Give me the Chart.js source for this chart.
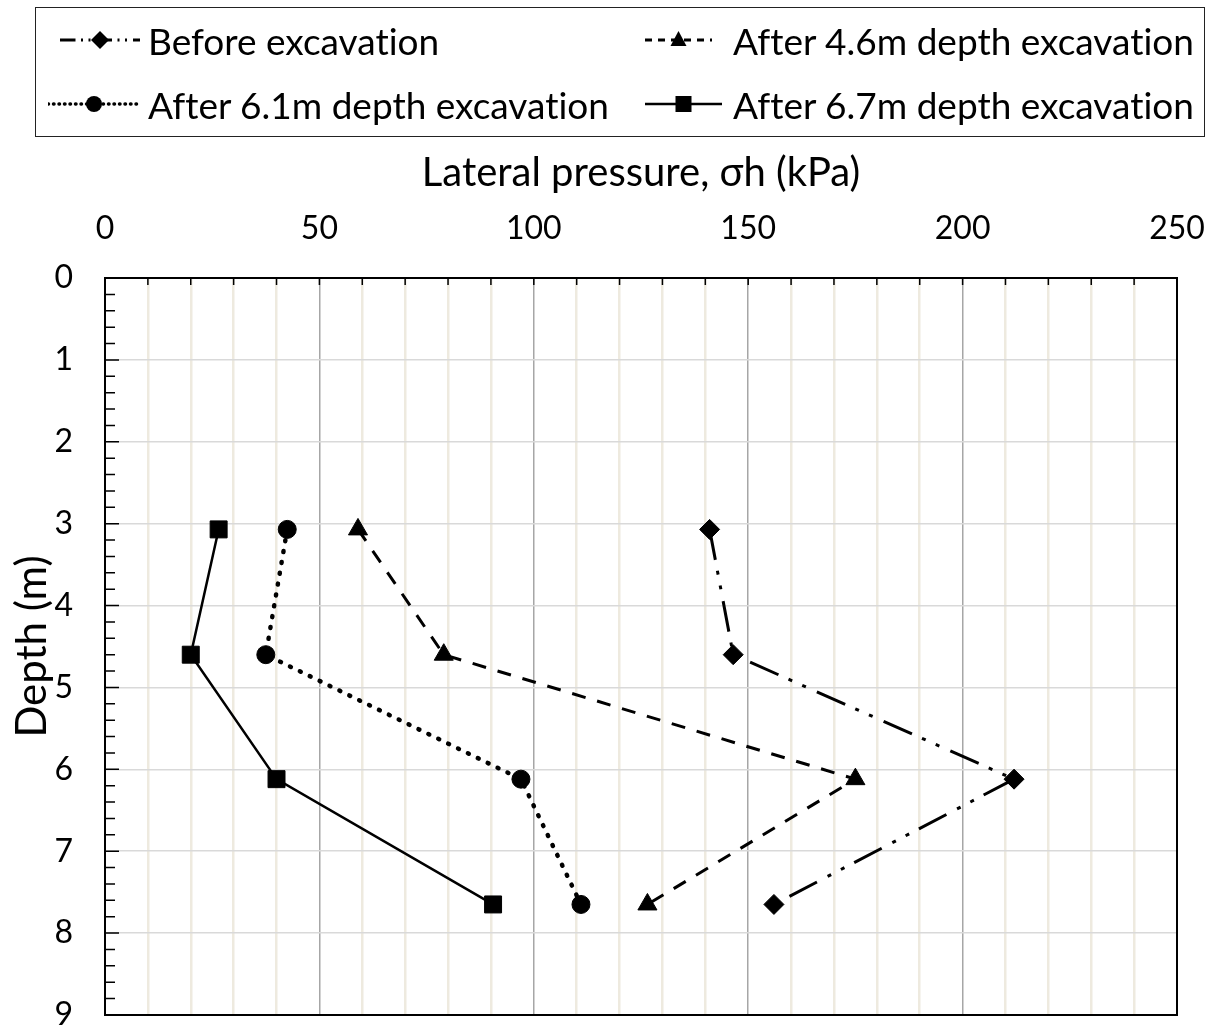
<!DOCTYPE html>
<html>
<head>
<meta charset="utf-8">
<script src="https://cdn.jsdelivr.net/npm/chart.js@4.4.1/dist/chart.umd.min.js"></script>
<style>
  body { margin: 0; background: #fff; }
  #wrap { position: relative; width: 1211px; height: 1028px; font-family: Lato, "Open Sans", sans-serif; color: #000; }
  #chart { position: absolute; left: 0; top: 0; }
  #legendBox { position: absolute; left: 35px; top: 7px; width: 1170px; height: 130px; border: 1.5px solid #222; box-sizing: border-box; }
  .sym, .txt { position: absolute; height: 44px; display: flex; align-items: center; }
  .txt { font-size: 37px; white-space: nowrap; font-variant-ligatures: none; font-feature-settings: "liga" 0; }
</style>
</head>
<body>
<div id="wrap">
  <canvas id="chart" width="1211" height="1028"></canvas>
  <div id="legendBox"></div>
</div>
<script>
// depth (m) of each reading
const depth = [3.07, 4.6, 6.12, 7.65];
// lateral pressure (kPa)
const before = [141, 146.5, 212, 156];
const after46 = [59, 79, 175, 126.5];
const after61 = [42.5, 37.5, 97, 111];
const after67 = [26.5, 20, 40, 90.5];

const labels = ["Before excavation", "After 4.6m depth excavation", "After 6.1m depth excavation", "After 6.7m depth excavation"];
const xTicks = [0, 50, 100, 150, 200, 250];

const FONT = "Lato";

function pts(vals) {
  return vals.map((v, i) => ({ x: v, y: depth[i] }));
}

const styles = [
  { dash: [31, 11, 4, 11, 4, 12], width: 3, point: "rectRot", r: 10, cap: "butt" },
  { dash: [14, 12], width: 3, point: "triangle", r: 11, cap: "butt" },
  { dash: [1, 10], width: 4.5, point: "circle", r: 9, cap: "round" },
  { dash: [], width: 2.5, point: "rect", r: 12, cap: "butt" }
];

const series = [before, after46, after61, after67];

const datasets = series.map((s, i) => ({
  label: labels[i],
  data: pts(s),
  showLine: true,
  borderColor: "#000",
  backgroundColor: "#000",
  borderWidth: styles[i].width,
  borderDash: styles[i].dash,
  borderCapStyle: styles[i].cap,
  pointStyle: styles[i].point,
  pointRadius: styles[i].r,
  pointBorderWidth: 1,
  pointBackgroundColor: "#000",
  pointBorderColor: "#000"
}));

// frame and inward tick marks
const frameTicks = {
  id: "frameTicks",
  beforeDatasetsDraw(chart) {
    const { ctx, chartArea: a, scales: { x, y } } = chart;
    ctx.save();
    ctx.strokeStyle = "#000";
    ctx.lineWidth = 1.5;
    ctx.beginPath();
    for (let i = 1; i < 25; i++) {
      const px = x.getPixelForValue(i * 10);
      ctx.moveTo(px, a.top);
      ctx.lineTo(px, a.top + 7);
    }
    for (let i = 1; i < 45; i++) {
      const py = y.getPixelForValue(i * 0.2);
      const len = i % 5 === 0 ? 14 : 10;
      ctx.moveTo(a.left, py);
      ctx.lineTo(a.left + len, py);
    }
    ctx.stroke();
    ctx.lineWidth = 2;
    ctx.strokeRect(a.left, a.top, a.right - a.left, a.bottom - a.top);
    ctx.restore();
  }
};

new Chart(document.getElementById("chart"), {
  type: "scatter",
  data: { datasets: datasets },
  options: {
    responsive: false,
    animation: false,
    layout: { padding: { left: 0, top: 140, right: 34, bottom: 11 } },
    plugins: { legend: { display: false }, tooltip: { enabled: false } },
    scales: {
      x: {
        position: "top",
        min: 0,
        max: 250,
        afterFit(scale) { scale.height = 138; scale.paddingLeft = 0; scale.paddingRight = 0; },
        ticks: {
          stepSize: 10,
          padding: 30,
          color: "#000",
          font: { family: FONT, size: 32 },
          maxRotation: 0,
          autoSkip: false,
          callback: v => xTicks.includes(v) ? String(v) : ""
        },
        grid: {
          drawTicks: false,
          color: c => c.tick.value % 50 === 0 ? "#a6a6a6" : "#eeeadf",
          lineWidth: c => c.tick.value % 50 === 0 ? 1.5 : 2.5
        },
        border: { display: false },
        title: {
          display: true,
          text: "Lateral pressure, σh (kPa)",
          color: "#000",
          font: { family: FONT, size: 40 },
          padding: { top: 9, bottom: 0 }
        }
      },
      y: {
        reverse: true,
        min: 0,
        max: 9,
        afterFit(scale) { scale.width = 105; scale.paddingTop = 0; scale.paddingBottom = 0; },
        ticks: {
          stepSize: 1,
          padding: 32,
          color: "#000",
          font: { family: FONT, size: 32 }
        },
        grid: { drawTicks: false, color: "#d9d9d9", lineWidth: 1.5 },
        border: { display: false },
        title: {
          display: true,
          text: "Depth (m)",
          color: "#000",
          font: { family: FONT, size: 42 },
          padding: { top: 7, bottom: 0 }
        }
      }
    }
  },
  plugins: [frameTicks]
});

// legend drawn as HTML so the text stays text
function symbol(i, w) {
  const s = styles[i];
  const h = 30, cy = 15, cx = w / 2;
  const dash = s.dash.length ? `stroke-dasharray="${s.dash.map(d => d * 0.5).join(" ")}"` : "";
  let mark = "";
  if (s.point === "rectRot") mark = `<polygon points="${cx},${cy - 9} ${cx + 9},${cy} ${cx},${cy + 9} ${cx - 9},${cy}" fill="#000"/>`;
  if (s.point === "triangle") mark = `<polygon points="${cx},${cy - 9} ${cx + 8},${cy + 6} ${cx - 8},${cy + 6}" fill="#000"/>`;
  if (s.point === "circle") mark = `<circle cx="${cx}" cy="${cy}" r="8" fill="#000"/>`;
  if (s.point === "rect") mark = `<rect x="${cx - 8}" y="${cy - 8}" width="16" height="16" fill="#000"/>`;
  return `<svg width="${w}" height="${h}"><line x1="0" y1="${cy}" x2="${w}" y2="${cy}" stroke="#000" stroke-width="${Math.min(s.width, 3.5)}" stroke-linecap="${s.cap}" ${dash}/>${mark}</svg>`;
}
const legendPos = [
  { symX: 60, symW: 80, txtX: 148, cy: 40 },
  { symX: 645, symW: 67, txtX: 733, cy: 40 },
  { symX: 48, symW: 92, txtX: 148, cy: 104 },
  { symX: 645, symW: 77, txtX: 733, cy: 104 }
];
const wrap = document.getElementById("wrap");
labels.forEach((lab, i) => {
  const p = legendPos[i];
  const sym = document.createElement("div");
  sym.className = "sym";
  sym.style.left = p.symX + "px";
  sym.style.top = (p.cy - 22) + "px";
  sym.innerHTML = symbol(i, p.symW);
  const txt = document.createElement("div");
  txt.className = "txt";
  txt.style.left = p.txtX + "px";
  txt.style.top = (p.cy - 22) + "px";
  txt.textContent = lab;
  wrap.appendChild(sym);
  wrap.appendChild(txt);
});
</script>
</body>
</html>
